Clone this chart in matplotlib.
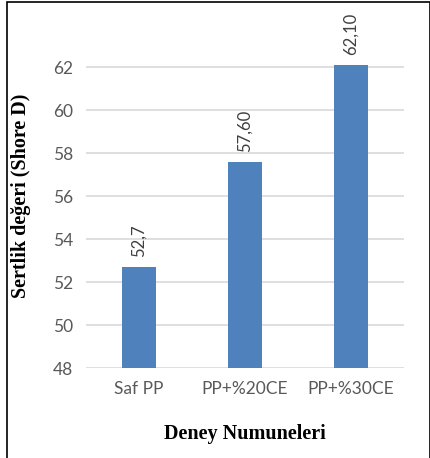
import matplotlib.pyplot as plt
from matplotlib.patches import Rectangle

samples = ['Saf PP', 'PP+%20CE', 'PP+%30CE']
hardness = [52.7, 57.6, 62.1]
label_decimals = [1, 2, 2]
y_ticks = [48, 50, 52, 54, 56, 58, 60, 62]


def main():
    fig = plt.figure(figsize=(4.31, 4.58), dpi=100)
    ax = fig.add_axes([0.1995, 0.1965, 0.7375, 0.751])

    x = range(len(samples))
    bars = ax.bar(x, hardness, width=0.32, color='#4f81bd', zorder=2)

    for rect, val, dec in zip(bars, hardness, label_decimals):
        txt = f'{val:.{dec}f}'.replace('.', ',')
        ax.annotate(txt, (rect.get_x() + rect.get_width() / 2, rect.get_height()),
                    xytext=(0, 7), textcoords='offset points',
                    rotation=90, ha='center', va='bottom',
                    fontsize=12, color='#404040', family='Lato')

    ax.set_xlim(-0.5, 2.5)
    ax.set_ylim(48, 64)
    ax.set_yticks(y_ticks)
    ax.set_xticks(list(x))
    ax.set_xticklabels(samples)
    ax.yaxis.grid(True, color='#d9d9d9', linewidth=1.2, zorder=0)
    ax.set_axisbelow(True)
    for s in ax.spines.values():
        s.set_visible(False)
    ax.tick_params(length=0, labelsize=12.5, colors='#595959', pad=9)
    for lab in ax.get_xticklabels() + ax.get_yticklabels():
        lab.set_family('Lato')

    ax.set_ylabel('Sertlik değeri (Shore D)', family='Liberation Serif',
                  fontweight='bold', fontsize=14.5, labelpad=16)
    ax.set_xlabel('Deney Numuneleri', family='Liberation Serif',
                  fontweight='bold', fontsize=14.5, labelpad=20)

    frame = Rectangle((7 / 431, -0.02), 423 / 431, 1.02 - 1.5 / 458,
                      transform=fig.transFigure, fill=False,
                      edgecolor='black', linewidth=1.2)
    fig.patches.append(frame)

    fig.savefig('out.png', dpi=100)


if __name__ == '__main__':
    main()
